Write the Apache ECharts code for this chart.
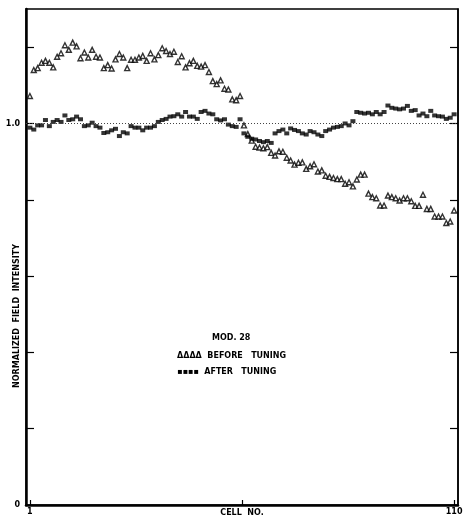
<!DOCTYPE html>
<html>
<head>
<meta charset="utf-8">
<script src="https://cdn.jsdelivr.net/npm/echarts@6/dist/echarts.min.js"></script>
<style>
html,body{margin:0;padding:0;background:#fff;}
#chart{width:463px;height:518px;}
</style>
</head>
<body>
<div id="chart"></div>
<script>
// Normalized field intensity per cell (cells 1..110)
var beforeTuning = [
1.072,1.140,1.145,1.159,1.164,1.159,1.147,1.175,1.184,1.205,
1.193,1.212,1.202,1.171,1.186,1.173,1.193,1.175,1.173,1.145,
1.153,1.144,1.168,1.182,1.173,1.145,1.167,1.167,1.173,1.177,
1.164,1.184,1.168,1.179,1.197,1.190,1.182,1.188,1.161,1.176,
1.147,1.158,1.164,1.151,1.149,1.153,1.135,1.111,1.103,1.113,
1.091,1.089,1.063,1.061,1.072,0.995,0.972,0.955,0.939,0.937,
0.935,0.938,0.923,0.916,0.927,0.926,0.910,0.903,0.892,0.897,
0.898,0.881,0.888,0.893,0.874,0.877,0.863,0.860,0.857,0.854,
0.854,0.842,0.846,0.835,0.853,0.866,0.866,0.816,0.807,0.804,
0.785,0.785,0.811,0.807,0.804,0.798,0.804,0.804,0.796,0.784,
0.784,0.813,0.776,0.776,0.756,0.756,0.756,0.739,0.743,0.772
];
var afterTuning = [
0.989,0.984,0.995,0.995,1.009,0.993,1.004,1.009,1.004,1.021,
1.009,1.011,1.018,1.011,0.993,0.995,1.002,0.993,0.989,0.975,
0.977,0.982,0.986,0.967,0.977,0.974,0.993,0.989,0.989,0.982,
0.989,0.989,0.993,1.004,1.009,1.012,1.018,1.019,1.024,1.018,
1.030,1.018,1.018,1.012,1.030,1.033,1.026,1.024,1.011,1.008,
1.011,0.997,0.993,0.991,1.011,0.974,0.965,0.960,0.958,0.954,
0.951,0.954,0.949,0.974,0.980,0.984,0.974,0.987,0.983,0.980,
0.974,0.971,0.980,0.977,0.971,0.967,0.980,0.984,0.989,0.991,
0.993,1.000,0.995,1.006,1.030,1.028,1.026,1.028,1.024,1.030,
1.024,1.030,1.047,1.041,1.039,1.037,1.039,1.046,1.033,1.035,
1.021,1.026,1.019,1.033,1.021,1.019,1.018,1.012,1.015,1.024
];
var xTickLabels = [1, 110];
var xTicks = [1, 55.5, 110];
var yTickLabels = [0, 1.0];
var yTicks = [0.2, 0.4, 0.6, 0.8, 1.0, 1.2];

function pairs(arr){ return arr.map(function(v,i){ return [i+1, v]; }); }

var FONT = '"DejaVu Sans", sans-serif';
var chart = echarts.init(document.getElementById('chart'), null, {renderer:'canvas'});
chart.setOption({
  animation:false,
  backgroundColor:'#fff',
  grid:{left:26,right:5,top:9,bottom:13,containLabel:false,outerBoundsMode:'none',
    show:true,borderColor:'#000',borderWidth:1.5,backgroundColor:'transparent'},
  xAxis:{
    type:'value',min:0,max:111,
    name:'CELL  NO.',nameLocation:'middle',nameGap:4,nameMoveOverlap:false,
    nameTextStyle:{fontFamily:FONT,fontWeight:'bold',fontSize:8,color:'#000'},
    axisLine:{show:true,onZero:false,lineStyle:{color:'#000',width:2.5}},
    axisTick:{show:true,inside:true,length:5,customValues:xTicks,lineStyle:{color:'#000',width:1.2}},
    axisLabel:{show:true,customValues:xTickLabels,margin:3,fontFamily:FONT,fontWeight:'bold',fontSize:8,color:'#000'},
    splitLine:{show:false}
  },
  yAxis:[{
    type:'value',min:0,max:1.3,position:'left',
    name:'NORMALIZED  FIELD  INTENSITY',nameLocation:'middle',nameRotate:90,nameGap:5,nameMoveOverlap:false,
    nameTextStyle:{fontFamily:FONT,fontWeight:'bold',fontSize:8,color:'#000',padding:[0,118,0,0]},
    axisLine:{show:true,lineStyle:{color:'#000',width:2.5}},
    axisTick:{show:true,inside:true,length:8,customValues:yTicks,lineStyle:{color:'#000',width:1.2}},
    axisLabel:{show:true,customValues:yTickLabels,margin:6,fontFamily:FONT,fontWeight:'bold',fontSize:8,color:'#000',
      formatter:function(v){ return v===0 ? '0' : v.toFixed(1); }},
    splitLine:{show:false}
  },{
    type:'value',min:0,max:1.3,position:'right',
    axisLine:{show:true,lineStyle:{color:'#000',width:1.5}},
    axisTick:{show:true,inside:true,length:8,customValues:yTicks,lineStyle:{color:'#000',width:1.2}},
    axisLabel:{show:false},
    splitLine:{show:false}
  }],
  series:[{
    name:'BEFORE TUNING',type:'scatter',data:pairs(beforeTuning),
    symbol:'triangle',symbolSize:5,
    itemStyle:{color:'#fff',borderColor:'#000',borderWidth:1.4},
    markLine:{silent:true,symbol:'none',label:{show:false},
      lineStyle:{color:'#444',type:[1,2],width:1},data:[{yAxis:1.0}]},
    z:3
  },{
    name:'AFTER TUNING',type:'scatter',data:pairs(afterTuning),
    symbol:'rect',symbolSize:[5,4],
    itemStyle:{color:'#000'},
    z:4
  }],
  graphic:[
    {type:'text',left:212,top:334,style:{text:'MOD. 28',fontFamily:FONT,fontWeight:'bold',fontSize:8,fill:'#000'}},
    {type:'text',left:177,top:352,style:{text:'\u0394\u0394\u0394\u0394  BEFORE   TUNING',fontFamily:FONT,fontWeight:'bold',fontSize:8,fill:'#000'}},
    {type:'text',left:177,top:368,style:{text:'\u25AA\u25AA\u25AA\u25AA  AFTER   TUNING',fontFamily:FONT,fontWeight:'bold',fontSize:8,fill:'#000'}}
  ]
});
</script>
</body>
</html>
